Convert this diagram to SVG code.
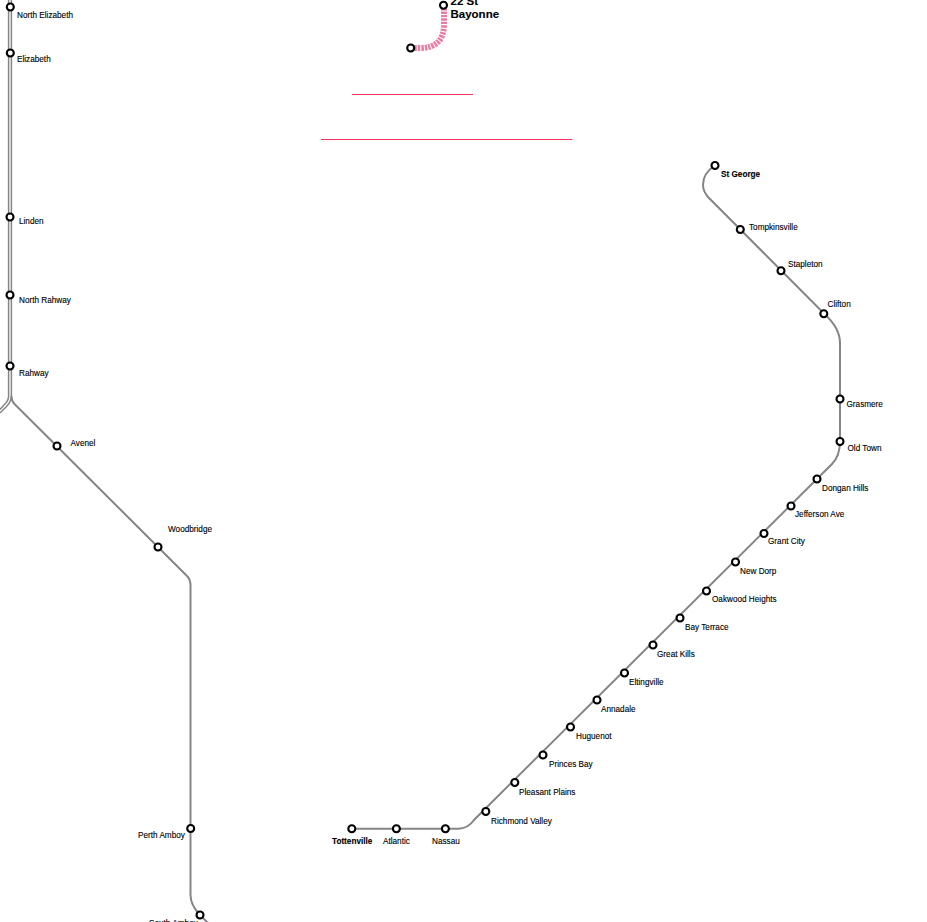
<svg xmlns="http://www.w3.org/2000/svg" width="927" height="922" viewBox="0 0 927 922">
<style>
.bg{fill:#fff}
.ln{fill:none;stroke:#858585;stroke-width:2}
.ln2{fill:none;stroke:#858585;stroke-width:1.500}
.red{fill:none;stroke:#f9355c;stroke-width:1.200}
.st{fill:#fff;stroke:#000;stroke-width:2.100}
text{font-family:"Liberation Sans",Arial,sans-serif;font-size:8.2px;fill:#000;stroke:#000;stroke-width:.12}
.big{font-size:11.500px;font-weight:700}
.b{font-weight:700}
</style>
<rect class="bg" width="927" height="922"/>
<g id="connectors">
<path class="ln2" d="M8.600 0V396Q8.600 401 4 405L0 409.500"/>
<path class="ln2" d="M11.400 0V396Q11.400 401 7 406L0 413"/>
<path class="ln" d="M11.400 396Q11.400 401 14.500 404L186 575Q190.500 579 190.500 585V895Q190.500 905 200 915L208 923"/>
<path class="ln" d="M715 165.500Q703 173 703 185Q703 191 708 197L824 313.500Q840 328 840 343V441Q840 456 832 464L474 820Q468 828.700 458 828.700H352"/>
<path d="M411 48H420Q444 48 444 24V5" fill="none" stroke="#ee7ba3" stroke-width="6" stroke-dasharray="2.400 1"/>
<path class="red" d="M352 94.500H473M321 139.500H572.500"/>
</g>
<g id="n1"><circle class="st" cx="10.300" cy="7" r="3.500"/><text x="17" y="18">North Elizabeth</text></g>
<g id="n2"><circle class="st" cx="10.300" cy="53" r="3.500"/><text x="17" y="62">Elizabeth</text></g>
<g id="n3"><circle class="st" cx="10" cy="217" r="3.500"/><text x="19" y="224">Linden</text></g>
<g id="n4"><circle class="st" cx="10" cy="295" r="3.500"/><text x="19" y="303">North Rahway</text></g>
<g id="n5"><circle class="st" cx="10" cy="366" r="3.500"/><text x="19" y="376">Rahway</text></g>
<g id="n6"><circle class="st" cx="57" cy="446" r="3.500"/><text x="70.500" y="446">Avenel</text></g>
<g id="n7"><circle class="st" cx="158" cy="547" r="3.500"/><text x="168" y="532">Woodbridge</text></g>
<g id="n8"><circle class="st" cx="190.700" cy="828.500" r="3.500"/><text x="138" y="838">Perth Amboy</text></g>
<g id="n9"><circle class="st" cx="200" cy="915" r="3.500"/><text x="149" y="926">South Amboy</text></g>
<g id="n10"><circle class="st" cx="443.500" cy="5.300" r="3.500"/><text class="big" x="450.500" y="4.500">22 St</text><text class="big" x="450.500" y="17.500">Bayonne</text></g>
<g id="n11"><circle class="st" cx="410.700" cy="48" r="3.500"/></g>
<g id="n12"><circle class="st" cx="715" cy="165.500" r="3.500"/><text class="b" x="721" y="177">St George</text></g>
<g id="n13"><circle class="st" cx="740.300" cy="229.500" r="3.500"/><text x="749" y="230">Tompkinsville</text></g>
<g id="n14"><circle class="st" cx="781" cy="270.700" r="3.500"/><text x="788" y="267">Stapleton</text></g>
<g id="n15"><circle class="st" cx="823.800" cy="313.700" r="3.500"/><text x="827.500" y="307">Clifton</text></g>
<g id="n16"><circle class="st" cx="840" cy="399" r="3.500"/><text x="846.500" y="407">Grasmere</text></g>
<g id="n17"><circle class="st" cx="840" cy="441.500" r="3.500"/><text x="847.500" y="451">Old Town</text></g>
<g id="n18"><circle class="st" cx="817" cy="479" r="3.500"/><text x="822" y="491">Dongan Hills</text></g>
<g id="n19"><circle class="st" cx="791" cy="506" r="3.500"/><text x="795" y="517">Jefferson Ave</text></g>
<g id="n20"><circle class="st" cx="764" cy="533.500" r="3.500"/><text x="768" y="544">Grant City</text></g>
<g id="n21"><circle class="st" cx="735.500" cy="562" r="3.500"/><text x="740" y="574">New Dorp</text></g>
<g id="n22"><circle class="st" cx="706.500" cy="591" r="3.500"/><text x="712" y="602">Oakwood Heights</text></g>
<g id="n23"><circle class="st" cx="680" cy="618" r="3.500"/><text x="685" y="630">Bay Terrace</text></g>
<g id="n24"><circle class="st" cx="653" cy="645" r="3.500"/><text x="657" y="657">Great Kills</text></g>
<g id="n25"><circle class="st" cx="624.500" cy="673" r="3.500"/><text x="629" y="685">Eltingville</text></g>
<g id="n26"><circle class="st" cx="597" cy="700" r="3.500"/><text x="601" y="712">Annadale</text></g>
<g id="n27"><circle class="st" cx="570.500" cy="727" r="3.500"/><text x="576" y="739">Huguenot</text></g>
<g id="n28"><circle class="st" cx="543" cy="755" r="3.500"/><text x="549" y="767">Princes Bay</text></g>
<g id="n29"><circle class="st" cx="514.800" cy="782.500" r="3.500"/><text x="519" y="795">Pleasant Plains</text></g>
<g id="n30"><circle class="st" cx="485.800" cy="811.500" r="3.500"/><text x="491" y="824">Richmond Valley</text></g>
<g id="n31"><circle class="st" cx="445.400" cy="828.700" r="3.500"/><text x="432" y="844">Nassau</text></g>
<g id="n32"><circle class="st" cx="396.400" cy="828.700" r="3.500"/><text x="383" y="844">Atlantic</text></g>
<g id="n33"><circle class="st" cx="351.800" cy="828.700" r="3.500"/><text class="b" x="332" y="844">Tottenville</text></g>
</svg>
